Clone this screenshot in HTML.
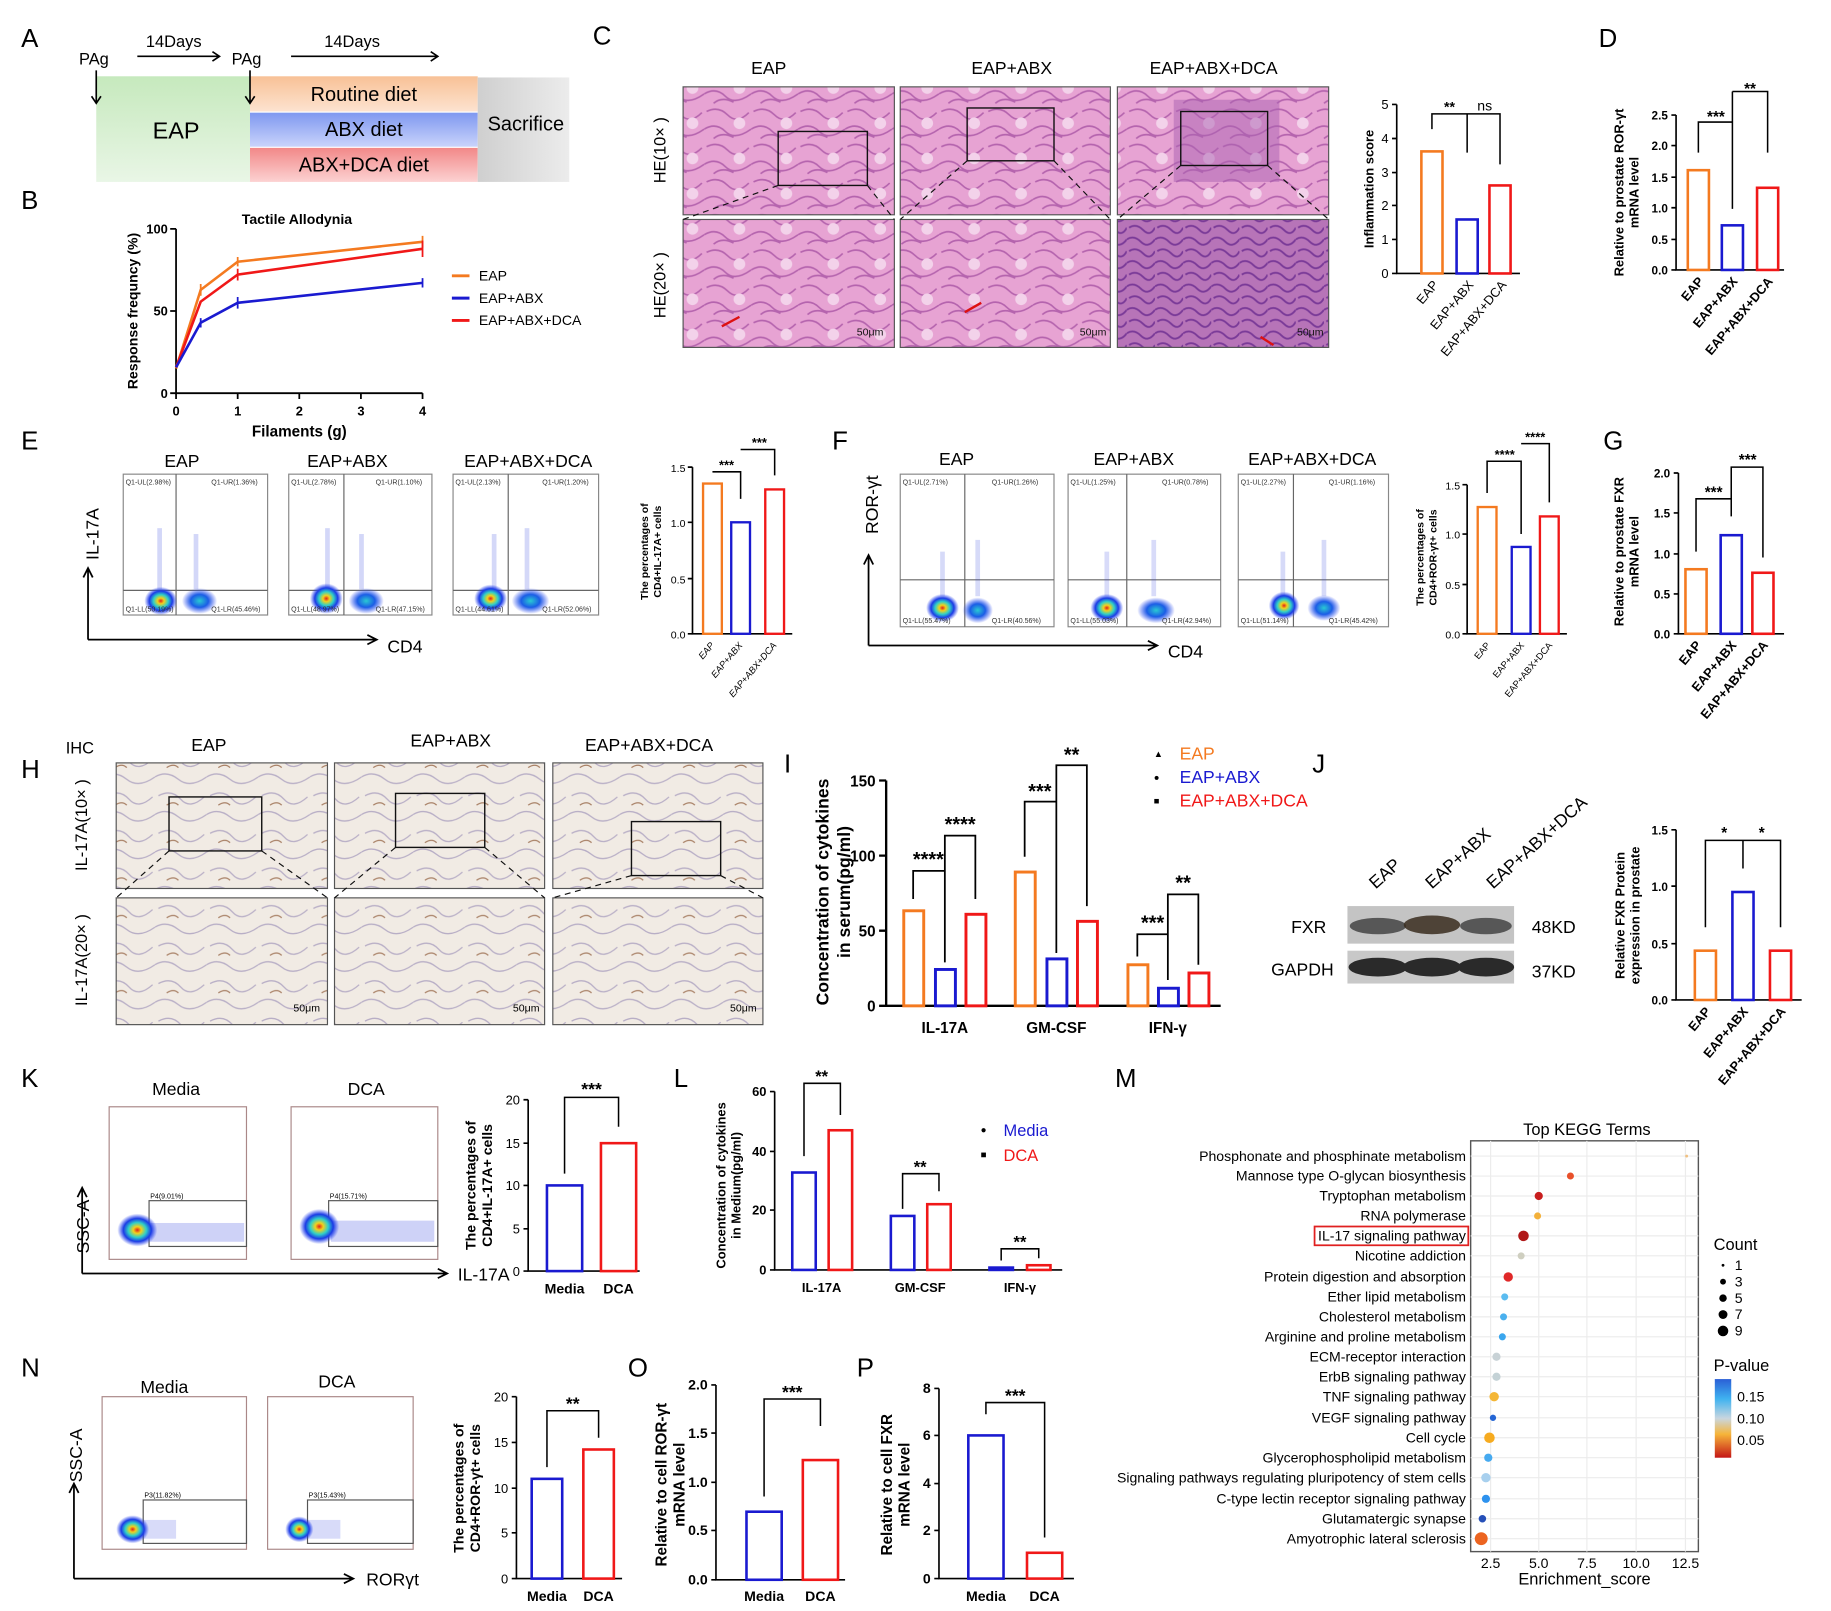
<!DOCTYPE html>
<html><head><meta charset="utf-8"><style>
html,body{margin:0;padding:0;background:#fff;}
svg{display:block;}
text{font-family:"Liberation Sans",Arial,sans-serif;}
.b{font-weight:bold;}
</style></head><body>
<svg width="1831" height="1611" viewBox="0 0 1560 1372.6" preserveAspectRatio="none" xmlns="http://www.w3.org/2000/svg">
<defs>
<linearGradient id="gG" x1="0" y1="0" x2="0" y2="1"><stop offset="0" stop-color="#c6e9bd"/><stop offset="1" stop-color="#e9f6e6"/></linearGradient>
<linearGradient id="gO" x1="0" y1="0" x2="0" y2="1"><stop offset="0" stop-color="#f8c196"/><stop offset="1" stop-color="#fde3d0"/></linearGradient>
<linearGradient id="gB" x1="0" y1="0" x2="0" y2="1"><stop offset="0" stop-color="#7f98f0"/><stop offset="1" stop-color="#c9d3fb"/></linearGradient>
<linearGradient id="gR" x1="0" y1="0" x2="0" y2="1"><stop offset="0" stop-color="#f28888"/><stop offset="1" stop-color="#fcd2d2"/></linearGradient>
<linearGradient id="gS" x1="0" y1="0" x2="1" y2="0"><stop offset="0" stop-color="#cfcfcf"/><stop offset="1" stop-color="#ececec"/></linearGradient>
<linearGradient id="pv" x1="0" y1="0" x2="0" y2="1"><stop offset="0" stop-color="#2a5fd6"/><stop offset="0.25" stop-color="#3fb2f0"/><stop offset="0.5" stop-color="#c9d6df"/><stop offset="0.7" stop-color="#f6b53a"/><stop offset="1" stop-color="#c41616"/></linearGradient>
<radialGradient id="blob"><stop offset="0" stop-color="#e0201a"/><stop offset="0.2" stop-color="#f3d11b"/><stop offset="0.45" stop-color="#2fd0c8"/><stop offset="0.7" stop-color="#1b3be6"/><stop offset="1" stop-color="#2b45f0" stop-opacity="0"/></radialGradient>
<radialGradient id="blob2"><stop offset="0" stop-color="#29c9d2"/><stop offset="0.5" stop-color="#1b5de6"/><stop offset="1" stop-color="#2b45f0" stop-opacity="0"/></radialGradient>
<pattern id="he" width="40" height="30" patternUnits="userSpaceOnUse">
<rect width="40" height="30" fill="#e7a3d3"/>
<path d="M2 5 Q12 0 20 8 T38 6 M0 20 Q10 14 18 22 T40 20 M8 28 Q15 22 25 27" fill="none" stroke="#b564ae" stroke-width="1.4"/>
<circle cx="30" cy="15" r="5" fill="#f3d2ea"/></pattern>
<pattern id="he2" width="24" height="20" patternUnits="userSpaceOnUse">
<rect width="24" height="20" fill="#b774b8"/>
<path d="M0 4 Q6 0 12 6 T24 4 M2 14 Q8 10 14 16 T24 14" fill="none" stroke="#7a3a98" stroke-width="1.6"/></pattern>
<pattern id="ihc" width="44" height="32" patternUnits="userSpaceOnUse">
<rect width="44" height="32" fill="#f1ebe4"/>
<path d="M3 6 Q14 0 22 9 T42 7 M0 22 Q10 16 20 24 T44 22" fill="none" stroke="#b8aec6" stroke-width="1.1"/>
<path d="M10 14 q6 -4 10 0" fill="none" stroke="#a88065" stroke-width="1.1"/></pattern>
</defs>

<!-- Panel A -->
<text x="18" y="40" font-size="22">A</text>
<rect x="82" y="65" width="131" height="90" fill="url(#gG)"/>
<rect x="213" y="65" width="194" height="30" fill="url(#gO)"/>
<rect x="213" y="96" width="194" height="29" fill="url(#gB)"/>
<rect x="213" y="126" width="194" height="29" fill="url(#gR)"/>
<rect x="407" y="66" width="78" height="89" fill="url(#gS)"/>
<text x="150" y="118" font-size="20" text-anchor="middle">EAP</text>
<text x="310" y="86" font-size="17" text-anchor="middle">Routine diet</text>
<text x="310" y="116" font-size="17" text-anchor="middle">ABX diet</text>
<text x="310" y="146" font-size="17" text-anchor="middle">ABX+DCA diet</text>
<text x="448" y="111" font-size="17" text-anchor="middle">Sacrifice</text>
<text x="80" y="55" font-size="14" text-anchor="middle">PAg</text>
<text x="210" y="55" font-size="14" text-anchor="middle">PAg</text>
<text x="148" y="40" font-size="14" text-anchor="middle">14Days</text>
<text x="300" y="40" font-size="14" text-anchor="middle">14Days</text>
<g stroke="#000" stroke-width="1.4" fill="none">
<path d="M82 60 V88 M78 82 L82 88 L86 82"/><path d="M213 60 V88 M209 82 L213 88 L217 82"/>
<path d="M117 48 H187 M181 44 L187 48 L181 52"/><path d="M248 48 H373 M367 44 L373 48 L367 52"/>
</g>

<!-- Panel B -->
<text x="18" y="178" font-size="22">B</text>
<text x="253" y="191" font-size="12" class="b" text-anchor="middle">Tactile Allodynia</text>
<g stroke="#000" stroke-width="1.5" fill="none"><path d="M150 195 V335 H360"/>
<path d="M145 195 H150 M145 265 H150 M145 335 H150 M150 335 V340 M202.5 335 V340 M255 335 V340 M307.5 335 V340 M360 335 V340"/></g>
<g font-size="11" class="b" text-anchor="end"><text x="143" y="199">100</text><text x="143" y="269">50</text><text x="143" y="339">0</text></g>
<g font-size="11" class="b" text-anchor="middle"><text x="150" y="354">0</text><text x="202.5" y="354">1</text><text x="255" y="354">2</text><text x="307.5" y="354">3</text><text x="360" y="354">4</text></g>
<text x="255" y="372" font-size="13" class="b" text-anchor="middle">Filaments (g)</text>
<text transform="translate(117,265) rotate(-90)" font-size="12" class="b" text-anchor="middle">Response frequncy (%)</text>
<g fill="none" stroke-width="2.2">
<polyline points="150,314 171,247 202.5,223 360,206" stroke="#f47a20"/>
<polyline points="150,313 171,257 202.5,234 360,212" stroke="#f01818"/>
<polyline points="150,313 171,275 202.5,258 360,241" stroke="#1a1ad0"/>
</g>
<g stroke-width="1.5"><path d="M360 201 V211 M202.5 219 V227 M171 242 V252" stroke="#f47a20"/><path d="M360 205 V219 M202.5 229 V239" stroke="#f01818"/><path d="M360 237 V245 M202.5 253 V263 M171 271 V279" stroke="#1a1ad0"/></g>
<path d="M385 235 H400" stroke="#f47a20" stroke-width="2.5"/><path d="M385 254 H400" stroke="#1a1ad0" stroke-width="2.5"/><path d="M385 273 H400" stroke="#f01818" stroke-width="2.5"/>
<g font-size="12"><text x="408" y="239">EAP</text><text x="408" y="258">EAP+ABX</text><text x="408" y="277">EAP+ABX+DCA</text></g>

<!-- Panel C -->
<text x="505" y="38" font-size="22">C</text>
<g font-size="15" text-anchor="middle"><text x="655" y="63">EAP</text><text x="862" y="63">EAP+ABX</text><text x="1034" y="63">EAP+ABX+DCA</text></g>
<text transform="translate(567,128) rotate(-90)" font-size="14" text-anchor="middle">HE(10× )</text>
<text transform="translate(567,243) rotate(-90)" font-size="14" text-anchor="middle">HE(20× )</text>
<rect x="582" y="74" width="180" height="109" fill="url(#he)" stroke="#555"/>
<rect x="767" y="74" width="179" height="109" fill="url(#he)" stroke="#555"/>
<rect x="952" y="74" width="180" height="109" fill="url(#he)" stroke="#555"/>
<rect x="1000" y="85" width="90" height="70" fill="#a961b2" opacity="0.5"/>
<rect x="582" y="187" width="180" height="109" fill="url(#he)" stroke="#555"/>
<rect x="767" y="187" width="179" height="109" fill="url(#he)" stroke="#555"/>
<rect x="952" y="187" width="180" height="109" fill="url(#he2)" stroke="#555"/>
<g fill="none" stroke="#111" stroke-width="1.2"><rect x="663" y="112" width="76" height="46"/><rect x="824" y="92" width="74" height="45"/><rect x="1006" y="95" width="74" height="46"/></g>
<g stroke="#111" stroke-dasharray="5,4" stroke-width="1"><path d="M663 158 L582 187 M739 158 L762 187 M824 137 L767 187 M898 137 L946 187 M1006 141 L952 187 M1080 141 L1132 187"/></g>
<g font-size="9" fill="#111"><text x="730" y="286">50μm</text><text x="920" y="286">50μm</text><text x="1105" y="286">50μm</text></g>
<g stroke="#d11" stroke-width="2"><path d="M615 278 L630 270"/><path d="M822 266 L836 258"/><path d="M1085 294 L1074 287"/></g>
<!-- C bar -->
<g stroke="#000" stroke-width="1.4" fill="none"><path d="M1190 89 V233 H1295"/><path d="M1186 89 H1190 M1186 118 H1190 M1186 147 H1190 M1186 175 H1190 M1186 204 H1190 M1186 233 H1190"/></g>
<g font-size="11" text-anchor="end"><text x="1183" y="93">5</text><text x="1183" y="122">4</text><text x="1183" y="151">3</text><text x="1183" y="179">2</text><text x="1183" y="208">1</text><text x="1183" y="237">0</text></g>
<text transform="translate(1170,161) rotate(-90)" font-size="11" class="b" text-anchor="middle">Inflammation score</text>
<rect x="1211" y="129" width="18" height="104" fill="none" stroke="#f47a20" stroke-width="2.2"/>
<rect x="1241" y="187" width="18" height="46" fill="none" stroke="#1a1ad0" stroke-width="2.2"/>
<rect x="1269" y="158" width="18" height="75" fill="none" stroke="#f01818" stroke-width="2.2"/>
<g stroke="#000" fill="none" stroke-width="1.3"><path d="M1220 110 V97 H1250 V130 M1250 97 H1278 V140"/></g>
<g font-size="12" text-anchor="middle"><text x="1235" y="95" class="b">**</text><text x="1265" y="94">ns</text></g>
<g font-size="11" text-anchor="end"><text transform="translate(1226,243) rotate(-50)">EAP</text><text transform="translate(1256,243) rotate(-50)">EAP+ABX</text><text transform="translate(1284,243) rotate(-50)">EAP+ABX+DCA</text></g>

<!-- Panel D -->
<text x="1362" y="40" font-size="22">D</text>
<g stroke="#000" stroke-width="1.4" fill="none"><path d="M1428 98 V230 H1520"/><path d="M1424 98 H1428 M1424 124 H1428 M1424 151 H1428 M1424 177 H1428 M1424 204 H1428 M1424 230 H1428"/></g>
<g font-size="10" class="b" text-anchor="end"><text x="1421" y="102">2.5</text><text x="1421" y="128">2.0</text><text x="1421" y="155">1.5</text><text x="1421" y="181">1.0</text><text x="1421" y="208">0.5</text><text x="1421" y="234">0.0</text></g>
<text transform="translate(1383,164) rotate(-90)" font-size="11" class="b" text-anchor="middle">Relative to prostate ROR-γt</text>
<text transform="translate(1396,164) rotate(-90)" font-size="11" class="b" text-anchor="middle">mRNA level</text>
<rect x="1438" y="145" width="18" height="85" fill="none" stroke="#f47a20" stroke-width="2.2"/>
<rect x="1467" y="192" width="18" height="38" fill="none" stroke="#1a1ad0" stroke-width="2.2"/>
<rect x="1497" y="160" width="18" height="70" fill="none" stroke="#f01818" stroke-width="2.2"/>
<g stroke="#000" fill="none" stroke-width="1.3"><path d="M1447 130 V104 H1476 V178 M1476 78 V104 M1476 78 H1506 V130"/></g>
<g font-size="13" class="b" text-anchor="middle"><text x="1462" y="104">***</text><text x="1491" y="80">**</text></g>
<g font-size="11" class="b" text-anchor="end"><text transform="translate(1452,240) rotate(-50)">EAP</text><text transform="translate(1481,240) rotate(-50)">EAP+ABX</text><text transform="translate(1511,240) rotate(-50)">EAP+ABX+DCA</text></g>

<!-- Panel E -->
<text x="18" y="383" font-size="22">E</text>
<g font-size="15" text-anchor="middle"><text x="155" y="398">EAP</text><text x="296" y="398">EAP+ABX</text><text x="450" y="398">EAP+ABX+DCA</text></g>
<g fill="#fff" stroke="#888"><rect x="105" y="404" width="123" height="120"/><rect x="246" y="404" width="122" height="120"/><rect x="386" y="404" width="124" height="120"/></g>
<g stroke="#666" stroke-width="1"><path d="M150 404 V524 M105 503 H228 M293 404 V524 M246 503 H368 M433 404 V524 M386 503 H510"/></g>
<g fill="#3a4de0" opacity="0.22"><rect x="134" y="450" width="4" height="52"/><rect x="165" y="455" width="4" height="47"/><rect x="277" y="450" width="4" height="52"/><rect x="306" y="455" width="4" height="47"/><rect x="419" y="455" width="4" height="47"/><rect x="447" y="450" width="4" height="52"/></g>
<g>
<ellipse cx="137" cy="512" rx="14" ry="12" fill="url(#blob)"/><ellipse cx="170" cy="512" rx="15" ry="11" fill="url(#blob2)"/>
<ellipse cx="278" cy="510" rx="14" ry="13" fill="url(#blob)"/><ellipse cx="312" cy="512" rx="15" ry="11" fill="url(#blob2)"/>
<ellipse cx="418" cy="510" rx="14" ry="12" fill="url(#blob)"/><ellipse cx="452" cy="512" rx="16" ry="11" fill="url(#blob2)"/>
</g>
<g font-size="6" fill="#333"><text x="107" y="413">Q1-UL(2.98%)</text><text x="180" y="413">Q1-UR(1.36%)</text><text x="107" y="521">Q1-LL(50.19%)</text><text x="180" y="521">Q1-LR(45.46%)</text>
<text x="248" y="413">Q1-UL(2.78%)</text><text x="320" y="413">Q1-UR(1.10%)</text><text x="248" y="521">Q1-LL(48.97%)</text><text x="320" y="521">Q1-LR(47.15%)</text>
<text x="388" y="413">Q1-UL(2.13%)</text><text x="462" y="413">Q1-UR(1.20%)</text><text x="388" y="521">Q1-LL(44.61%)</text><text x="462" y="521">Q1-LR(52.06%)</text></g>
<g stroke="#000" stroke-width="1.5" fill="none"><path d="M75 545 V485 M71 492 L75 484 L79 492"/><path d="M75 545 H320 M313 541 L321 545 L313 549"/></g>
<text transform="translate(84,455) rotate(-90)" font-size="15" text-anchor="middle">IL-17A</text>
<text x="330" y="556" font-size="15">CD4</text>
<!-- E bar -->
<g stroke="#000" stroke-width="1.4" fill="none"><path d="M590 398 V540 H675"/><path d="M586 398 H590 M586 445 H590 M586 493 H590 M586 540 H590"/></g>
<g font-size="9" text-anchor="end"><text x="584" y="402">1.5</text><text x="584" y="449">1.0</text><text x="584" y="497">0.5</text><text x="584" y="544">0.0</text></g>
<text transform="translate(552,470) rotate(-90)" font-size="9" class="b" text-anchor="middle">The percentages of</text>
<text transform="translate(563,470) rotate(-90)" font-size="9" class="b" text-anchor="middle">CD4+IL-17A+ cells</text>
<rect x="599" y="412" width="16" height="128" fill="none" stroke="#f47a20" stroke-width="2"/>
<rect x="623" y="445" width="16" height="95" fill="none" stroke="#1a1ad0" stroke-width="2"/>
<rect x="652" y="417" width="16" height="123" fill="none" stroke="#f01818" stroke-width="2"/>
<g stroke="#000" fill="none" stroke-width="1.3"><path d="M607 402 H631 V425 M631 383 H660 V405"/></g>
<g font-size="11" class="b" text-anchor="middle"><text x="619" y="400">***</text><text x="647" y="381">***</text></g>
<g font-size="8" text-anchor="end" font-style="italic"><text transform="translate(609,550) rotate(-50)">EAP</text><text transform="translate(633,550) rotate(-50)">EAP+ABX</text><text transform="translate(662,550) rotate(-50)">EAP+ABX+DCA</text></g>

<!-- Panel F -->
<text x="709" y="383" font-size="22">F</text>
<g font-size="15" text-anchor="middle"><text x="815" y="396">EAP</text><text x="966" y="396">EAP+ABX</text><text x="1118" y="396">EAP+ABX+DCA</text></g>
<g fill="#fff" stroke="#888"><rect x="767" y="404" width="131" height="130"/><rect x="910" y="404" width="130" height="130"/><rect x="1055" y="404" width="128" height="130"/></g>
<g stroke="#666"><path d="M822 404 V534 M767 494 H898 M960 404 V534 M910 494 H1040 M1102 404 V534 M1055 494 H1183"/></g>
<g fill="#3a4de0" opacity="0.2"><rect x="801" y="470" width="4" height="38"/><rect x="831" y="460" width="4" height="48"/><rect x="941" y="470" width="4" height="38"/><rect x="981" y="460" width="4" height="48"/><rect x="1091" y="470" width="4" height="38"/><rect x="1126" y="460" width="4" height="48"/></g>
<ellipse cx="803" cy="518" rx="14" ry="12" fill="url(#blob)"/><ellipse cx="833" cy="520" rx="13" ry="11" fill="url(#blob2)"/>
<ellipse cx="943" cy="518" rx="14" ry="12" fill="url(#blob)"/><ellipse cx="985" cy="520" rx="16" ry="11" fill="url(#blob2)"/>
<ellipse cx="1094" cy="516" rx="13" ry="12" fill="url(#blob)"/><ellipse cx="1128" cy="518" rx="14" ry="11" fill="url(#blob2)"/>
<g font-size="6" fill="#333"><text x="769" y="413">Q1-UL(2.71%)</text><text x="845" y="413">Q1-UR(1.26%)</text><text x="769" y="531">Q1-LL(55.47%)</text><text x="845" y="531">Q1-LR(40.56%)</text>
<text x="912" y="413">Q1-UL(1.25%)</text><text x="990" y="413">Q1-UR(0.78%)</text><text x="912" y="531">Q1-LL(55.03%)</text><text x="990" y="531">Q1-LR(42.94%)</text>
<text x="1057" y="413">Q1-UL(2.27%)</text><text x="1132" y="413">Q1-UR(1.16%)</text><text x="1057" y="531">Q1-LL(51.14%)</text><text x="1132" y="531">Q1-LR(45.42%)</text></g>
<g stroke="#000" stroke-width="1.5" fill="none"><path d="M740 550 V474 M736 481 L740 473 L744 481"/><path d="M740 550 H985 M978 546 L986 550 L978 554"/></g>
<text transform="translate(748,430) rotate(-90)" font-size="15" text-anchor="middle">ROR-γt</text>
<text x="995" y="560" font-size="15">CD4</text>
<!-- F bar -->
<g stroke="#000" stroke-width="1.4" fill="none"><path d="M1250 413 V540 H1335"/><path d="M1246 413 H1250 M1246 455 H1250 M1246 498 H1250 M1246 540 H1250"/></g>
<g font-size="9" text-anchor="end"><text x="1244" y="417">1.5</text><text x="1244" y="459">1.0</text><text x="1244" y="502">0.5</text><text x="1244" y="544">0.0</text></g>
<text transform="translate(1213,475) rotate(-90)" font-size="9" class="b" text-anchor="middle">The percentages of</text>
<text transform="translate(1224,475) rotate(-90)" font-size="9" class="b" text-anchor="middle">CD4+ROR-γt+ cells</text>
<rect x="1259" y="432" width="16" height="108" fill="none" stroke="#f47a20" stroke-width="2"/>
<rect x="1288" y="466" width="16" height="74" fill="none" stroke="#1a1ad0" stroke-width="2"/>
<rect x="1312" y="440" width="16" height="100" fill="none" stroke="#f01818" stroke-width="2"/>
<g stroke="#000" fill="none" stroke-width="1.3"><path d="M1267 420 V393 H1296 V455 M1296 378 H1320 V428"/></g>
<g font-size="11" class="b" text-anchor="middle"><text x="1282" y="391">****</text><text x="1308" y="376">****</text></g>
<g font-size="8" text-anchor="end"><text transform="translate(1270,550) rotate(-50)">EAP</text><text transform="translate(1299,550) rotate(-50)">EAP+ABX</text><text transform="translate(1323,550) rotate(-50)">EAP+ABX+DCA</text></g>

<!-- Panel G -->
<text x="1366" y="383" font-size="22">G</text>
<g stroke="#000" stroke-width="1.4" fill="none"><path d="M1430 403 V540 H1520"/><path d="M1426 403 H1430 M1426 437 H1430 M1426 472 H1430 M1426 506 H1430 M1426 540 H1430"/></g>
<g font-size="10" class="b" text-anchor="end"><text x="1423" y="407">2.0</text><text x="1423" y="441">1.5</text><text x="1423" y="476">1.0</text><text x="1423" y="510">0.5</text><text x="1423" y="544">0.0</text></g>
<text transform="translate(1383,470) rotate(-90)" font-size="11" class="b" text-anchor="middle">Relative to prostate FXR</text>
<text transform="translate(1396,470) rotate(-90)" font-size="11" class="b" text-anchor="middle">mRNA level</text>
<rect x="1436" y="485" width="18" height="55" fill="none" stroke="#f47a20" stroke-width="2.2"/>
<rect x="1466" y="456" width="18" height="84" fill="none" stroke="#1a1ad0" stroke-width="2.2"/>
<rect x="1493" y="488" width="18" height="52" fill="none" stroke="#f01818" stroke-width="2.2"/>
<g stroke="#000" fill="none" stroke-width="1.3"><path d="M1445 470 V425 H1475 V440 M1475 425 V398 H1502 V475"/></g>
<g font-size="13" class="b" text-anchor="middle"><text x="1460" y="424">***</text><text x="1489" y="396">***</text></g>
<g font-size="11" class="b" text-anchor="end"><text transform="translate(1450,550) rotate(-50)">EAP</text><text transform="translate(1480,550) rotate(-50)">EAP+ABX</text><text transform="translate(1507,550) rotate(-50)">EAP+ABX+DCA</text></g>

<!-- Panel H -->
<text x="18" y="663" font-size="22">H</text>
<text x="56" y="642" font-size="14">IHC</text>
<g font-size="15" text-anchor="middle"><text x="178" y="640">EAP</text><text x="384" y="636">EAP+ABX</text><text x="553" y="640">EAP+ABX+DCA</text></g>
<text transform="translate(74,703) rotate(-90)" font-size="14" text-anchor="middle">IL-17A(10× )</text>
<text transform="translate(74,818) rotate(-90)" font-size="14" text-anchor="middle">IL-17A(20× )</text>
<g fill="url(#ihc)" stroke="#555"><rect x="99" y="650" width="180" height="107"/><rect x="285" y="650" width="179" height="107"/><rect x="471" y="650" width="179" height="107"/><rect x="99" y="765" width="180" height="108"/><rect x="285" y="765" width="179" height="108"/><rect x="471" y="765" width="179" height="108"/></g>
<g fill="none" stroke="#111" stroke-width="1.2"><rect x="144" y="679" width="79" height="46"/><rect x="337" y="676" width="76" height="46"/><rect x="538" y="700" width="76" height="46"/></g>
<g stroke="#111" stroke-dasharray="5,4"><path d="M144 725 L99 765 M223 725 L279 765 M337 722 L285 765 M413 722 L464 765 M538 746 L471 765 M614 746 L650 765"/></g>
<g font-size="9"><text x="250" y="862">50μm</text><text x="437" y="862">50μm</text><text x="622" y="862">50μm</text></g>

<!-- Panel I -->
<text x="668" y="658" font-size="22">I</text>
<g stroke="#000" stroke-width="2" fill="none"><path d="M755 665 V857 H1040"/><path d="M749 665 H755 M749 729 H755 M749 793 H755 M749 857 H755"/></g>
<g font-size="13" class="b" text-anchor="end"><text x="746" y="670">150</text><text x="746" y="734">100</text><text x="746" y="798">50</text><text x="746" y="862">0</text></g>
<text transform="translate(706,760) rotate(-90)" font-size="15" class="b" text-anchor="middle">Concentration of cytokines</text>
<text transform="translate(724,760) rotate(-90)" font-size="15" class="b" text-anchor="middle">in serum(pg/ml)</text>
<g fill="none" stroke-width="2.5">
<rect x="770" y="776" width="17" height="81" stroke="#f47a20"/><rect x="797" y="826" width="17" height="31" stroke="#1a1ad0"/><rect x="823" y="779" width="17" height="78" stroke="#f01818"/>
<rect x="865" y="743" width="17" height="114" stroke="#f47a20"/><rect x="892" y="817" width="17" height="40" stroke="#1a1ad0"/><rect x="918" y="785" width="17" height="72" stroke="#f01818"/>
<rect x="961" y="822" width="17" height="35" stroke="#f47a20"/><rect x="987" y="842" width="17" height="15" stroke="#1a1ad0"/><rect x="1013" y="829" width="17" height="28" stroke="#f01818"/>
</g>
<g stroke="#000" fill="none" stroke-width="1.5"><path d="M778 766 V742 H805 V820 M805 742 V712 H831 V766 M873 730 V683 H900 V812 M900 683 V652 H926 V772 M969 815 V796 H995 V835 M995 796 V762 H1021 V822"/></g>
<g font-size="17" class="b" text-anchor="middle"><text x="791" y="738">****</text><text x="818" y="708">****</text><text x="886" y="680">***</text><text x="913" y="649">**</text><text x="982" y="792">***</text><text x="1008" y="758">**</text></g>
<g font-size="13" class="b" text-anchor="middle"><text x="805" y="880">IL-17A</text><text x="900" y="880">GM-CSF</text><text x="995" y="880">IFN-γ</text></g>
<g font-size="15"><text x="1005" y="647" fill="#f47a20">EAP</text><text x="1005" y="667" fill="#1a1ad0">EAP+ABX</text><text x="1005" y="687" fill="#f01818">EAP+ABX+DCA</text></g>
<g font-size="8"><text x="983" y="645">▲</text><text x="983" y="665">●</text><text x="983" y="685">■</text></g>

<!-- Panel J -->
<text x="1118" y="658" font-size="22">J</text>
<g font-size="15" text-anchor="start"><text transform="translate(1172,758) rotate(-42)">EAP</text><text transform="translate(1220,758) rotate(-42)">EAP+ABX</text><text transform="translate(1272,758) rotate(-42)">EAP+ABX+DCA</text></g>
<rect x="1148" y="772" width="142" height="32" fill="#c4c4c4"/>
<rect x="1148" y="810" width="142" height="28" fill="#c8c8c8"/>
<g fill="#2a2a2a"><ellipse cx="1174" cy="789" rx="24" ry="7" opacity="0.7"/><ellipse cx="1220" cy="788" rx="24" ry="8" fill="#3a2d1e" opacity="0.85"/><ellipse cx="1266" cy="789" rx="22" ry="7" opacity="0.7"/>
<ellipse cx="1174" cy="824" rx="25" ry="8"/><ellipse cx="1220" cy="824" rx="25" ry="8"/><ellipse cx="1266" cy="824" rx="24" ry="8"/></g>
<g font-size="15"><text x="1100" y="795">FXR</text><text x="1083" y="831">GAPDH</text><text x="1305" y="795">48KD</text><text x="1305" y="833">37KD</text></g>
<g stroke="#000" stroke-width="1.4" fill="none"><path d="M1428 707 V852 H1535"/><path d="M1424 707 H1428 M1424 755 H1428 M1424 804 H1428 M1424 852 H1428"/></g>
<g font-size="10" class="b" text-anchor="end"><text x="1421" y="711">1.5</text><text x="1421" y="759">1.0</text><text x="1421" y="808">0.5</text><text x="1421" y="856">0.0</text></g>
<text transform="translate(1384,780) rotate(-90)" font-size="11" class="b" text-anchor="middle">Relative FXR Protein</text>
<text transform="translate(1397,780) rotate(-90)" font-size="11" class="b" text-anchor="middle">expression in prostate</text>
<rect x="1444" y="810" width="18" height="42" fill="none" stroke="#f47a20" stroke-width="2.2"/>
<rect x="1476" y="760" width="18" height="92" fill="none" stroke="#1a1ad0" stroke-width="2.2"/>
<rect x="1508" y="810" width="18" height="42" fill="none" stroke="#f01818" stroke-width="2.2"/>
<g stroke="#000" fill="none" stroke-width="1.3"><path d="M1453 790 V716 H1485 V740 M1485 716 H1517 V790"/></g>
<g font-size="13" class="b" text-anchor="middle"><text x="1469" y="714">*</text><text x="1501" y="714">*</text></g>
<g font-size="11" class="b" text-anchor="end"><text transform="translate(1458,862) rotate(-50)">EAP</text><text transform="translate(1490,862) rotate(-50)">EAP+ABX</text><text transform="translate(1522,862) rotate(-50)">EAP+ABX+DCA</text></g>

<!-- Panel K -->
<text x="18" y="926" font-size="22">K</text>
<g font-size="15" text-anchor="middle"><text x="150" y="933">Media</text><text x="312" y="933">DCA</text></g>
<g fill="#fff" stroke="#a88"><rect x="93" y="943" width="117" height="130"/><rect x="248" y="943" width="125" height="130"/></g>
<g fill="#3a4de0" opacity="0.25"><rect x="128" y="1042" width="80" height="16"/><rect x="282" y="1040" width="88" height="18"/></g>
<g fill="none" stroke="#555"><rect x="127" y="1023" width="83" height="39"/><rect x="280" y="1023" width="93" height="39"/></g>
<ellipse cx="117" cy="1048" rx="17" ry="14" fill="url(#blob)"/><ellipse cx="272" cy="1045" rx="17" ry="15" fill="url(#blob)"/>
<g font-size="6"><text x="128" y="1021">P4(9.01%)</text><text x="281" y="1021">P4(15.71%)</text></g>
<g stroke="#000" stroke-width="1.5" fill="none"><path d="M70 1085 V1013 M66 1020 L70 1012 L74 1020"/><path d="M70 1085 H380 M373 1081 L381 1085 L373 1089"/></g>
<text transform="translate(76,1045) rotate(-90)" font-size="15" text-anchor="middle">SSC-A</text>
<text x="390" y="1091" font-size="15">IL-17A</text>
<g stroke="#000" stroke-width="1.4" fill="none"><path d="M450 937 V1083 H545"/><path d="M446 937 H450 M446 974 H450 M446 1010 H450 M446 1047 H450 M446 1083 H450"/></g>
<g font-size="11" text-anchor="end"><text x="443" y="941">20</text><text x="443" y="978">15</text><text x="443" y="1014">10</text><text x="443" y="1051">5</text><text x="443" y="1087">0</text></g>
<text transform="translate(405,1010) rotate(-90)" font-size="12" class="b" text-anchor="middle">The percentages of</text>
<text transform="translate(419,1010) rotate(-90)" font-size="12" class="b" text-anchor="middle">CD4+IL-17A+ cells</text>
<rect x="466" y="1010" width="30" height="73" fill="none" stroke="#1a1ad0" stroke-width="2.2"/>
<rect x="512" y="974" width="30" height="109" fill="none" stroke="#f01818" stroke-width="2.2"/>
<path d="M481 1000 V935 H527 V960" stroke="#000" fill="none" stroke-width="1.3"/>
<text x="504" y="933" font-size="15" class="b" text-anchor="middle">***</text>
<g font-size="12" class="b" text-anchor="middle"><text x="481" y="1102">Media</text><text x="527" y="1102">DCA</text></g>

<!-- Panel L -->
<text x="574" y="926" font-size="22">L</text>
<g stroke="#000" stroke-width="1.4" fill="none"><path d="M660 930 V1082 H905"/><path d="M656 930 H660 M656 981 H660 M656 1031 H660 M656 1082 H660"/></g>
<g font-size="11" class="b" text-anchor="end"><text x="653" y="934">60</text><text x="653" y="985">40</text><text x="653" y="1035">20</text><text x="653" y="1086">0</text></g>
<text transform="translate(618,1010) rotate(-90)" font-size="11" class="b" text-anchor="middle">Concentration of cytokines</text>
<text transform="translate(631,1010) rotate(-90)" font-size="11" class="b" text-anchor="middle">in Medium(pg/ml)</text>
<g fill="none" stroke-width="2.2">
<rect x="675" y="999" width="20" height="83" stroke="#1a1ad0"/><rect x="706" y="963" width="20" height="119" stroke="#f01818"/>
<rect x="759" y="1036" width="20" height="46" stroke="#1a1ad0"/><rect x="790" y="1026" width="20" height="56" stroke="#f01818"/>
<rect x="843" y="1080" width="20" height="2" stroke="#1a1ad0"/><rect x="875" y="1078" width="20" height="4" stroke="#f01818"/>
</g>
<g stroke="#000" fill="none" stroke-width="1.3"><path d="M685 985 V923 H716 V950 M769 1030 V1000 H800 V1015 M853 1074 V1064 H885 V1072"/></g>
<g font-size="14" class="b" text-anchor="middle"><text x="700" y="922">**</text><text x="784" y="999">**</text><text x="869" y="1063">**</text></g>
<g font-size="11" class="b" text-anchor="middle"><text x="700" y="1101">IL-17A</text><text x="784" y="1101">GM-CSF</text><text x="869" y="1101">IFN-γ</text></g>
<g font-size="14"><text x="855" y="968" fill="#1a1ad0">Media</text><text x="855" y="989" fill="#f01818">DCA</text></g>
<circle cx="838" cy="963" r="1.8" fill="#000"/><rect x="836" y="982" width="4" height="4" fill="#000"/>

<!-- Panel M -->
<text x="950" y="926" font-size="22">M</text>
<text x="1352" y="967" font-size="14" text-anchor="middle">Top KEGG Terms</text>
<rect x="1253" y="972" width="194" height="350" fill="#fff" stroke="#555" stroke-width="1.2"/>
<g stroke="#ececec"><path d="M1270 972 V1322 M1311 972 V1322 M1352 972 V1322 M1394 972 V1322 M1436 972 V1322"/></g>
<g stroke="#ececec"><path d="M1253 985 H1447 M1253 1002 H1447 M1253 1019 H1447 M1253 1036 H1447 M1253 1053 H1447 M1253 1070 H1447 M1253 1088 H1447 M1253 1105 H1447 M1253 1122 H1447 M1253 1139 H1447 M1253 1156 H1447 M1253 1173 H1447 M1253 1190 H1447 M1253 1208 H1447 M1253 1225 H1447 M1253 1242 H1447 M1253 1259 H1447 M1253 1277 H1447 M1253 1294 H1447 M1253 1311 H1447"/></g>
<g font-size="12" text-anchor="end">
<text x="1249" y="989">Phosphonate and phosphinate metabolism</text>
<text x="1249" y="1006">Mannose type O-glycan biosynthesis</text>
<text x="1249" y="1023">Tryptophan metabolism</text>
<text x="1249" y="1040">RNA polymerase</text>
<text x="1249" y="1057">IL-17 signaling pathway</text>
<text x="1249" y="1074">Nicotine addiction</text>
<text x="1249" y="1092">Protein digestion and absorption</text>
<text x="1249" y="1109">Ether lipid metabolism</text>
<text x="1249" y="1126">Cholesterol metabolism</text>
<text x="1249" y="1143">Arginine and proline metabolism</text>
<text x="1249" y="1160">ECM-receptor interaction</text>
<text x="1249" y="1177">ErbB signaling pathway</text>
<text x="1249" y="1194">TNF signaling pathway</text>
<text x="1249" y="1212">VEGF signaling pathway</text>
<text x="1249" y="1229">Cell cycle</text>
<text x="1249" y="1246">Glycerophospholipid metabolism</text>
<text x="1249" y="1263">Signaling pathways regulating pluripotency of stem cells</text>
<text x="1249" y="1281">C-type lectin receptor signaling pathway</text>
<text x="1249" y="1298">Glutamatergic synapse</text>
<text x="1249" y="1315">Amyotrophic lateral sclerosis</text>
</g>
<rect x="1120" y="1045" width="131" height="16" fill="none" stroke="#e02020" stroke-width="1.5"/>
<g>
<circle cx="1437" cy="985" r="1.2" fill="#f0c080"/>
<circle cx="1338" cy="1002" r="3" fill="#e8502a"/>
<circle cx="1311" cy="1019" r="3.5" fill="#c81e1e"/>
<circle cx="1310" cy="1036" r="3" fill="#f3b03a"/>
<circle cx="1298" cy="1053" r="4.5" fill="#b01818"/>
<circle cx="1296" cy="1070" r="3" fill="#cfcfc0"/>
<circle cx="1285" cy="1088" r="4" fill="#e02828"/>
<circle cx="1282" cy="1105" r="3" fill="#5bbcf0"/>
<circle cx="1281" cy="1122" r="3" fill="#4ab0ee"/>
<circle cx="1280" cy="1139" r="3" fill="#3aa6ee"/>
<circle cx="1275" cy="1156" r="3.5" fill="#c8d2d6"/>
<circle cx="1275" cy="1173" r="3.5" fill="#c4d2d6"/>
<circle cx="1273" cy="1190" r="4" fill="#f4b636"/>
<circle cx="1272" cy="1208" r="2.7" fill="#2565d4"/>
<circle cx="1269" cy="1225" r="4.5" fill="#f6ab20"/>
<circle cx="1268" cy="1242" r="3.5" fill="#46aaf0"/>
<circle cx="1266" cy="1259" r="4" fill="#a8d0ee"/>
<circle cx="1266" cy="1277" r="3.5" fill="#2d92ee"/>
<circle cx="1263" cy="1294" r="3.2" fill="#2650b8"/>
<circle cx="1262" cy="1311" r="5.5" fill="#ec6420"/>
</g>
<g font-size="12" text-anchor="middle"><text x="1270" y="1336">2.5</text><text x="1311" y="1336">5.0</text><text x="1352" y="1336">7.5</text><text x="1394" y="1336">10.0</text><text x="1436" y="1336">12.5</text></g>
<text x="1350" y="1350" font-size="14" text-anchor="middle">Enrichment_score</text>
<text x="1460" y="1065" font-size="14">Count</text>
<g fill="#000"><circle cx="1468" cy="1078" r="1.2"/><circle cx="1468" cy="1092" r="2.5"/><circle cx="1468" cy="1106" r="3.2"/><circle cx="1468" cy="1120" r="3.8"/><circle cx="1468" cy="1134" r="4.5"/></g>
<g font-size="12"><text x="1478" y="1082">1</text><text x="1478" y="1096">3</text><text x="1478" y="1110">5</text><text x="1478" y="1124">7</text><text x="1478" y="1138">9</text></g>
<text x="1460" y="1168" font-size="14">P-value</text>
<rect x="1461" y="1175" width="14" height="67" fill="url(#pv)"/>
<g font-size="12"><text x="1480" y="1194">0.15</text><text x="1480" y="1213">0.10</text><text x="1480" y="1231">0.05</text></g>

<!-- Panel N -->
<text x="18" y="1173" font-size="22">N</text>
<g font-size="15" text-anchor="middle"><text x="140" y="1187">Media</text><text x="287" y="1182">DCA</text></g>
<g fill="#fff" stroke="#a88"><rect x="87" y="1190" width="123" height="130"/><rect x="228" y="1190" width="124" height="130"/></g>
<g fill="#3a4de0" opacity="0.2"><rect x="122" y="1295" width="28" height="16"/><rect x="262" y="1295" width="28" height="16"/></g>
<g fill="none" stroke="#555"><rect x="122" y="1278" width="88" height="37"/><rect x="262" y="1278" width="90" height="37"/></g>
<ellipse cx="113" cy="1303" rx="14" ry="12" fill="url(#blob)"/><ellipse cx="255" cy="1303" rx="12" ry="11" fill="url(#blob)"/>
<g font-size="6"><text x="123" y="1276">P3(11.82%)</text><text x="263" y="1276">P3(15.43%)</text></g>
<g stroke="#000" stroke-width="1.5" fill="none"><path d="M63 1345 V1265 M59 1272 L63 1264 L67 1272"/><path d="M63 1345 H300 M293 1341 L301 1345 L293 1349"/></g>
<text transform="translate(70,1240) rotate(-90)" font-size="15" text-anchor="middle">SSC-A</text>
<text x="312" y="1351" font-size="15">RORγt</text>
<g stroke="#000" stroke-width="1.4" fill="none"><path d="M440 1190 V1345 H530"/><path d="M436 1190 H440 M436 1229 H440 M436 1268 H440 M436 1306 H440 M436 1345 H440"/></g>
<g font-size="11" text-anchor="end"><text x="433" y="1194">20</text><text x="433" y="1233">15</text><text x="433" y="1272">10</text><text x="433" y="1310">5</text><text x="433" y="1349">0</text></g>
<text transform="translate(395,1268) rotate(-90)" font-size="12" class="b" text-anchor="middle">The percentages of</text>
<text transform="translate(409,1268) rotate(-90)" font-size="12" class="b" text-anchor="middle">CD4+ROR-γt+ cells</text>
<rect x="453" y="1260" width="26" height="85" fill="none" stroke="#1a1ad0" stroke-width="2.2"/>
<rect x="497" y="1235" width="26" height="110" fill="none" stroke="#f01818" stroke-width="2.2"/>
<path d="M466 1250 V1202 H510 V1225" stroke="#000" fill="none" stroke-width="1.3"/>
<text x="488" y="1201" font-size="15" class="b" text-anchor="middle">**</text>
<g font-size="12" class="b" text-anchor="middle"><text x="466" y="1364">Media</text><text x="510" y="1364">DCA</text></g>

<!-- Panel O -->
<text x="535" y="1173" font-size="22">O</text>
<g stroke="#000" stroke-width="1.4" fill="none"><path d="M610 1180 V1346 H720"/><path d="M606 1180 H610 M606 1221 H610 M606 1263 H610 M606 1304 H610 M606 1346 H610"/></g>
<g font-size="12" class="b" text-anchor="end"><text x="603" y="1184">2.0</text><text x="603" y="1225">1.5</text><text x="603" y="1267">1.0</text><text x="603" y="1308">0.5</text><text x="603" y="1350">0.0</text></g>
<text transform="translate(568,1265) rotate(-90)" font-size="13" class="b" text-anchor="middle">Relative to cell ROR-γt</text>
<text transform="translate(583,1265) rotate(-90)" font-size="13" class="b" text-anchor="middle">mRNA level</text>
<rect x="636" y="1288" width="30" height="58" fill="none" stroke="#1a1ad0" stroke-width="2.2"/>
<rect x="684" y="1244" width="30" height="102" fill="none" stroke="#f01818" stroke-width="2.2"/>
<path d="M651 1275 V1192 H699 V1215" stroke="#000" fill="none" stroke-width="1.3"/>
<text x="675" y="1191" font-size="15" class="b" text-anchor="middle">***</text>
<g font-size="12" class="b" text-anchor="middle"><text x="651" y="1364">Media</text><text x="699" y="1364">DCA</text></g>

<!-- Panel P -->
<text x="730" y="1173" font-size="22">P</text>
<g stroke="#000" stroke-width="1.4" fill="none"><path d="M800 1183 V1345 H915"/><path d="M796 1183 H800 M796 1223 H800 M796 1264 H800 M796 1304 H800 M796 1345 H800"/></g>
<g font-size="12" class="b" text-anchor="end"><text x="793" y="1187">8</text><text x="793" y="1227">6</text><text x="793" y="1268">4</text><text x="793" y="1308">2</text><text x="793" y="1349">0</text></g>
<text transform="translate(760,1265) rotate(-90)" font-size="13" class="b" text-anchor="middle">Relative to cell FXR</text>
<text transform="translate(775,1265) rotate(-90)" font-size="13" class="b" text-anchor="middle">mRNA level</text>
<rect x="825" y="1223" width="30" height="122" fill="none" stroke="#1a1ad0" stroke-width="2.2"/>
<rect x="875" y="1323" width="30" height="22" fill="none" stroke="#f01818" stroke-width="2.2"/>
<path d="M840 1205 V1195 H890 V1310" stroke="#000" fill="none" stroke-width="1.3"/>
<text x="865" y="1194" font-size="15" class="b" text-anchor="middle">***</text>
<g font-size="12" class="b" text-anchor="middle"><text x="840" y="1364">Media</text><text x="890" y="1364">DCA</text></g>
</svg>
</body></html>
